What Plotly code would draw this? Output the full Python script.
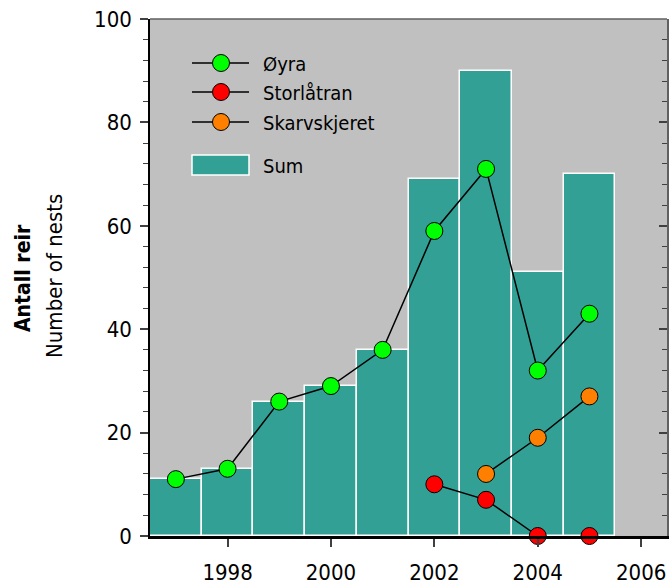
import plotly.graph_objects as go

years = [1997, 1998, 1999, 2000, 2001, 2002, 2003, 2004, 2005]
sum_vals = [11, 13, 26, 29, 36, 69, 90, 51, 70]
oyra_years = [1997, 1998, 1999, 2000, 2001, 2002, 2003, 2004, 2005]
oyra_vals = [11, 13, 26, 29, 36, 59, 71, 32, 43]
stor_years = [2002, 2003, 2004, 2005]
stor_vals = [10, 7, 0, 0]
skarv_years = [2003, 2004, 2005]
skarv_vals = [12, 19, 27]
x_ticks = [1998, 2000, 2002, 2004, 2006]
y_ticks = [0, 20, 40, 60, 80, 100]

FONT = "DejaVu Sans Condensed, Liberation Sans Narrow, Arial Narrow, sans-serif"
FS = 22
TEAL = "#33A096"
BG = "#C0C0C0"

fig = go.Figure()
fig.add_trace(go.Bar(x=years, y=sum_vals, width=1.0, marker=dict(color=TEAL, line=dict(color="white", width=1.5)),
                     name="Sum", showlegend=False, hoverinfo="skip"))

mk = dict(size=17, line=dict(color="black", width=1))
fig.add_trace(go.Scatter(x=oyra_years, y=oyra_vals, mode="lines+markers", name="Øyra", showlegend=False,
                         line=dict(color="black", width=1.5), marker=dict(color="#00FF00", **mk)))
fig.add_trace(go.Scatter(x=stor_years[:3], y=stor_vals[:3], mode="lines", showlegend=False,
                         line=dict(color="black", width=1.5)))
fig.add_trace(go.Scatter(x=stor_years, y=stor_vals, mode="markers", name="Storlåtran", showlegend=False,
                         cliponaxis=False, marker=dict(color="#FF0000", **mk)))
fig.add_trace(go.Scatter(x=skarv_years, y=skarv_vals, mode="lines+markers", name="Skarvskjeret", showlegend=False,
                         line=dict(color="black", width=1.5), marker=dict(color="#FF8000", **mk)))

W, H = 669, 586
ml, mr, mt, mb = 150, 2, 19, 50
pw, ph = W - ml - mr, H - mt - mb

def px(xp):
    return (xp - ml) / pw
def py(yp):
    return (H - mb - yp) / ph

shapes = []
annotations = []
legend_items = [("Øyra", "#00FF00", 63), ("Storlåtran", "#FF0000", 92), ("Skarvskjeret", "#FF8000", 122)]
for name, col, yy in legend_items:
    shapes.append(dict(type="line", xref="paper", yref="paper", x0=px(192), x1=px(249), y0=py(yy), y1=py(yy),
                       line=dict(color="black", width=1.5)))
    shapes.append(dict(type="circle", xref="paper", yref="paper", xsizemode="pixel", ysizemode="pixel",
                       xanchor=px(221), yanchor=py(yy), x0=-8.5, x1=8.5, y0=-8.5, y1=8.5,
                       fillcolor=col, line=dict(color="black", width=1)))
    annotations.append(dict(x=px(261), y=py(yy + 1), xref="paper", yref="paper", text=name, showarrow=False,
                            xanchor="left", yanchor="middle", font=dict(family=FONT, size=20, color="black")))
shapes.append(dict(type="rect", xref="paper", yref="paper", x0=px(192), x1=px(249), y0=py(175), y1=py(155),
                   fillcolor=TEAL, line=dict(color="white", width=1.5)))
annotations.append(dict(x=px(261), y=py(166), xref="paper", yref="paper", text="Sum", showarrow=False,
                        xanchor="left", yanchor="middle", font=dict(family=FONT, size=20, color="black")))
shapes.append(dict(type="line", xref="paper", yref="paper", x0=0, x1=1, y0=1, y1=1,
                   line=dict(color="#606060", width=1.5)))

annotations.append(dict(x=px(23), y=py(278), xref="paper", yref="paper", text="<b>Antall reir</b>", showarrow=False,
                        textangle=-90, xanchor="center", yanchor="middle", font=dict(family=FONT, size=21, color="black")))
annotations.append(dict(x=px(54), y=py(276), xref="paper", yref="paper", text="Number of nests", showarrow=False,
                        textangle=-90, xanchor="center", yanchor="middle", font=dict(family=FONT, size=22, color="black")))

fig.update_layout(
    width=W, height=H, margin=dict(l=ml, r=mr, t=mt, b=mb, autoexpand=False),
    plot_bgcolor=BG, paper_bgcolor="white", bargap=0,
    font=dict(family=FONT, size=FS, color="black"),
    shapes=shapes, annotations=annotations,
    xaxis=dict(range=[1996.5, 2006.5], tickmode="array", tickvals=x_ticks, automargin=False,
               ticks="outside", ticklen=8, tickwidth=1.5, tickcolor="#404040", showgrid=False, zeroline=False,
               showline=True, linecolor="black", linewidth=3, ticklabelstandoff=7,
               tickfont=dict(family=FONT, size=FS)),
    yaxis=dict(range=[0, 100], tickmode="array", tickvals=y_ticks, automargin=False,
               ticks="outside", ticklen=8, tickwidth=1.5,
               tickcolor="#404040", showgrid=False, zeroline=False, showline=True, linecolor="black", linewidth=1.5,
               ticklabelstandoff=4, tickfont=dict(family=FONT, size=FS),
               minor=dict(dtick=4, ticks="outside", ticklen=5, tickwidth=1, tickcolor="#404040", showgrid=False)),
    yaxis2=dict(range=[0, 100], overlaying="y", side="right", tickmode="array", tickvals=y_ticks, automargin=False,
                ticks="inside", ticklen=8, tickwidth=1.5, tickcolor="#404040", showticklabels=False,
                showgrid=False, zeroline=False, showline=True, linecolor="#606060", linewidth=1.5,
                minor=dict(dtick=4, ticks="inside", ticklen=5, tickwidth=1, tickcolor="#404040", showgrid=False)),
)
fig.add_trace(go.Scatter(x=[None], y=[None], yaxis="y2", showlegend=False, hoverinfo="skip"))
fig.write_html("out.html", config={"displayModeBar": False},
               post_script="document.body.style.margin='0';document.body.style.overflow='hidden';")
